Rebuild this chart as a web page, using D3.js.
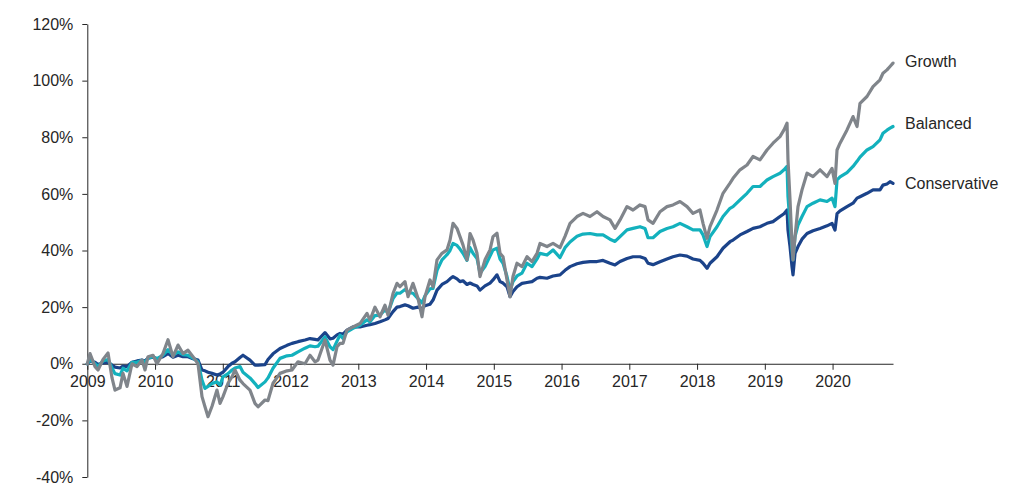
<!DOCTYPE html>
<html>
<head>
<meta charset="utf-8">
<script src="https://cdn.jsdelivr.net/npm/d3@7/dist/d3.min.js"></script>
<style>
  html, body { margin: 0; padding: 0; background: #ffffff; }
  svg { display: block; font-family: "Liberation Sans", Arial, sans-serif; }
</style>
</head>
<body>
<svg id="chart" width="1025" height="491"></svg>
<script>
// Time positions in decimal years (axis units)
const dates = [
  2009.000, 2009.040, 2009.114, 2009.158, 2009.232, 2009.306, 2009.365, 2009.409, 2009.483, 2009.527,
  2009.586, 2009.660, 2009.734, 2009.807, 2009.852, 2009.896, 2009.970, 2010.029, 2010.117, 2010.191,
  2010.265, 2010.339, 2010.413, 2010.486, 2010.560, 2010.634, 2010.693, 2010.737, 2010.782, 2010.841,
  2010.914, 2010.959, 2011.003, 2011.077, 2011.136, 2011.180, 2011.254, 2011.298, 2011.401, 2011.475,
  2011.520, 2011.623, 2011.667, 2011.741, 2011.844, 2011.948, 2012.021, 2012.110, 2012.213, 2012.287,
  2012.361, 2012.405, 2012.508, 2012.582, 2012.627, 2012.686, 2012.730, 2012.774, 2012.833, 2012.922,
  2013.025, 2013.128, 2013.173, 2013.246, 2013.320, 2013.394, 2013.438, 2013.512, 2013.571, 2013.615,
  2013.689, 2013.734, 2013.807, 2013.881, 2013.940, 2013.984, 2014.058, 2014.103, 2014.162, 2014.235,
  2014.309, 2014.354, 2014.398, 2014.457, 2014.501, 2014.545, 2014.604, 2014.649, 2014.693, 2014.752,
  2014.796, 2014.870, 2014.944, 2014.988, 2015.047, 2015.092, 2015.136, 2015.195, 2015.239, 2015.283,
  2015.342, 2015.416, 2015.490, 2015.564, 2015.638, 2015.682, 2015.785, 2015.874, 2015.977, 2016.051,
  2016.125, 2016.228, 2016.317, 2016.420, 2016.523, 2016.612, 2016.715, 2016.789, 2016.863, 2016.966,
  2017.055, 2017.158, 2017.232, 2017.276, 2017.350, 2017.453, 2017.556, 2017.645, 2017.748, 2017.852,
  2017.940, 2018.043, 2018.088, 2018.147, 2018.191, 2018.294, 2018.383, 2018.486, 2018.531, 2018.634,
  2018.737, 2018.826, 2018.929, 2019.032, 2019.121, 2019.224, 2019.283, 2019.328, 2019.342, 2019.372,
  2019.401, 2019.416, 2019.446, 2019.490, 2019.549, 2019.623, 2019.711, 2019.815, 2019.918, 2019.992,
  2020.036, 2020.066, 2020.110, 2020.213, 2020.302, 2020.361, 2020.405, 2020.508, 2020.597, 2020.700,
  2020.744, 2020.803, 2020.848, 2020.892
];

// Cumulative return, %
const conservative = [
  0, 1.0, 0.5, -0.3, 0.3, 0.5, -0.5, -1.2, -1.5, -0.8,
  -1.0, 0.5, 1.0, 1.3, 1.0, 2.0, 2.3, 1.8, 2.5, 3.6,
  2.3, 3.0, 2.5, 2.5, 1.8, 1.3, -2.2, -2.5, -3.0, -3.4,
  -4.0, -3.6, -3.0, -1.0, 0.2, 0.7, 2.2, 3.0, 1.3, -0.5,
  -0.5, -0.3, 1.5, 3.5, 5.4, 6.5, 7.2, 7.8, 8.4, 8.9,
  8.6, 8.4, 11.0, 8.8, 9.0, 10.2, 10.7, 10.5, 11.9, 13.0,
  13.0, 13.6, 13.8, 14.2, 14.8, 15.5, 16.0, 18.4, 20.0, 20.2,
  20.8, 20.5, 19.6, 20.0, 19.5, 20.5, 21.0, 22.5, 26.0, 28.0,
  29.0, 30.0, 30.8, 30.0, 29.0, 29.3, 28.0, 28.5, 28.0, 27.5,
  26.0, 27.5, 28.5, 29.6, 31.4, 29.0, 28.5, 27.2, 23.7, 25.5,
  27.2, 28.4, 28.7, 29.0, 30.2, 30.5, 30.2, 31.0, 31.4, 33.0,
  34.3, 35.3, 35.8, 36.1, 36.1, 36.5, 35.5, 34.9, 36.1, 37.2,
  37.8, 37.8, 37.2, 35.5, 35.0, 36.0, 37.0, 37.8, 38.4, 38.0,
  37.0, 36.5, 35.5, 33.7, 35.5, 37.8, 40.8, 43.1, 43.7, 45.5,
  46.7, 47.8, 48.4, 49.6, 50.2, 52.0, 53.0, 54.3, 47.2, 41.4,
  34.3, 31.4, 39.0, 41.4, 44.0, 46.0, 47.0, 47.8, 48.7, 49.6,
  47.2, 53.0, 54.0, 55.5, 56.7, 58.5, 59.0, 60.2, 61.4, 61.4,
  63.1, 63.5, 64.3, 63.7
];

const balanced = [
  0, 1.5, 0.0, -1.0, 1.0, 1.5, -1.5, -3.5, -4.0, -1.6,
  -2.5, 0.5, 0.5, 1.2, 0.5, 2.0, 2.5, 1.8, 3.0, 5.0,
  3.0, 4.2, 3.2, 3.0, 2.0, 0.7, -5.8, -8.7, -8.0, -7.0,
  -6.4, -7.5, -4.6, -3.5, -2.2, -1.5, -1.0, -3.0, -5.0, -7.0,
  -8.4, -6.4, -5.0, -1.6, 1.9, 2.8, 3.0, 4.2, 5.5, 6.3,
  6.0, 6.2, 9.5, 6.0, 5.0, 8.0, 10.1, 9.0, 11.3, 12.5,
  13.6, 15.5, 14.8, 17.0, 17.2, 19.0, 18.0, 23.0, 25.0, 24.9,
  26.2, 25.2, 24.9, 23.0, 21.5, 24.0, 26.5, 26.6, 33.0, 36.7,
  38.5, 40.0, 42.5, 41.8, 40.5, 39.0, 36.5, 41.0, 39.0, 37.2,
  32.0, 34.3, 38.0, 40.2, 40.8, 37.0, 35.5, 30.8, 26.0, 29.0,
  31.0, 32.0, 35.5, 34.3, 37.0, 39.0, 38.4, 40.2, 37.5, 41.0,
  43.0, 45.0, 45.8, 46.0, 45.5, 45.5, 44.0, 43.2, 44.9, 47.3,
  47.8, 48.4, 47.8, 44.5, 44.5, 46.7, 47.8, 48.4, 49.6, 48.4,
  47.3, 47.3, 45.5, 41.4, 44.9, 48.4, 52.0, 54.9, 55.5, 57.9,
  60.2, 62.6, 62.6, 64.9, 66.1, 67.3, 68.5, 69.7, 59.0, 49.6,
  40.2, 36.7, 44.9, 49.0, 52.0, 55.5, 56.7, 57.9, 57.3, 58.5,
  55.5, 64.9, 66.0, 67.5, 69.7, 71.5, 73.0, 75.5, 76.7, 79.1,
  81.4, 82.5, 83.2, 83.8
];

const growth = [
  0, 3.6, -1.0, -2.2, 1.5, 3.8, -5.0, -9.3, -8.5, -3.4,
  -8.0, 0.0, -1.0, 1.3, -2.2, 2.5, 3.0, 0.0, 3.6, 8.5,
  2.5, 6.6, 3.6, 4.8, 2.5, 0.0, -11.6, -15.2, -18.7, -15.0,
  -9.3, -14.0, -11.6, -6.9, -4.6, -2.2, -5.8, -7.0, -9.3, -14.0,
  -15.2, -12.8, -13.0, -6.9, -3.4, -2.5, -2.2, 0.7, 0.0, 3.0,
  0.7, 1.3, 8.4, 1.3, -0.5, 6.0, 7.2, 7.2, 11.9, 13.0,
  14.2, 17.8, 15.4, 20.0, 16.6, 20.7, 17.2, 24.8, 28.4, 27.2,
  29.0, 23.7, 28.4, 23.1, 16.6, 23.7, 29.6, 27.2, 36.7, 39.0,
  40.2, 43.7, 49.6, 47.8, 44.9, 42.0, 36.7, 46.0, 43.7, 39.0,
  30.8, 36.7, 40.2, 44.9, 46.1, 39.0, 37.8, 29.6, 23.7, 30.8,
  35.5, 34.3, 37.8, 36.1, 39.0, 42.5, 41.4, 42.5, 41.0, 45.0,
  49.6, 52.0, 53.1, 52.0, 53.7, 52.0, 50.8, 47.8, 50.8, 55.5,
  54.3, 56.1, 55.5, 50.8, 49.6, 53.7, 55.5, 56.1, 57.3, 55.5,
  53.1, 54.3, 49.6, 44.3, 48.4, 54.3, 60.2, 63.8, 65.5, 68.5,
  70.2, 73.2, 72.0, 75.5, 77.9, 80.2, 82.6, 85.0, 72.0, 57.9,
  42.5, 36.7, 44.9, 55.5, 61.4, 67.3, 66.1, 68.5, 66.1, 69.0,
  63.7, 75.5, 77.9, 82.6, 87.3, 83.8, 92.0, 94.4, 97.9, 100.3,
  102.6, 103.8, 105.0, 106.2
];

const seriesNames = ["Conservative", "Balanced", "Growth"];
const seriesColors = ["#1b438a", "#13b1bd", "#80858b"];
const yearTicks = [2009, 2010, 2011, 2012, 2013, 2014, 2015, 2016, 2017, 2018, 2019, 2020];
const pctTicks = [-40, -20, 0, 20, 40, 60, 80, 100, 120];

const seriesValues = [conservative, balanced, growth];

const svg = d3.select("#chart");
const x = d3.scaleLinear().domain([2009, dates[dates.length - 1]]).range([87.3, 893]);
const y = d3.scaleLinear().domain([-40, 120]).range([477, 24]);

const textColor = "#262626";
const axisColor = "#262626";
const fontSize = "16px";

// Y axis
const yAxis = svg.append("g")
  .attr("transform", `translate(${x(2009)},0)`)
  .call(d3.axisLeft(y).tickValues(pctTicks).tickFormat(d => d + "%").tickSize(5).tickSizeOuter(0).tickPadding(9));
yAxis.selectAll("text").attr("font-size", fontSize).attr("fill", textColor).attr("font-family", "Liberation Sans, Arial, sans-serif");
yAxis.selectAll("line, path").attr("stroke", axisColor);

// X axis at 0%
const xAxis = svg.append("g")
  .attr("transform", `translate(0,${y(0)})`)
  .call(d3.axisBottom(x).tickValues(yearTicks).tickFormat(d3.format("d")).tickSize(6).tickSizeOuter(0).tickPadding(6));
xAxis.selectAll("text").attr("font-size", fontSize).attr("fill", textColor).attr("font-family", "Liberation Sans, Arial, sans-serif");
xAxis.selectAll("line, path").attr("stroke", axisColor);

// Lines
const line = d3.line()
  .x((d, i) => x(dates[i]))
  .y(d => y(d));

seriesValues.forEach((vals, k) => {
  svg.append("path")
    .datum(vals)
    .attr("fill", "none")
    .attr("stroke", seriesColors[k])
    .attr("stroke-width", 3.2)
    .attr("stroke-linejoin", "round")
    .attr("stroke-linecap", "round")
    .attr("d", line);
});

// End labels
const labelOffsets = [0, -3.5, -1.5];
seriesValues.forEach((vals, k) => {
  svg.append("text")
    .attr("x", x(dates[dates.length - 1]) + 12)
    .attr("y", y(vals[vals.length - 1]) + labelOffsets[k])
    .attr("dy", "0.35em")
    .attr("font-size", fontSize)
    .attr("fill", textColor)
    .text(seriesNames[k]);
});
</script>
</body>
</html>
